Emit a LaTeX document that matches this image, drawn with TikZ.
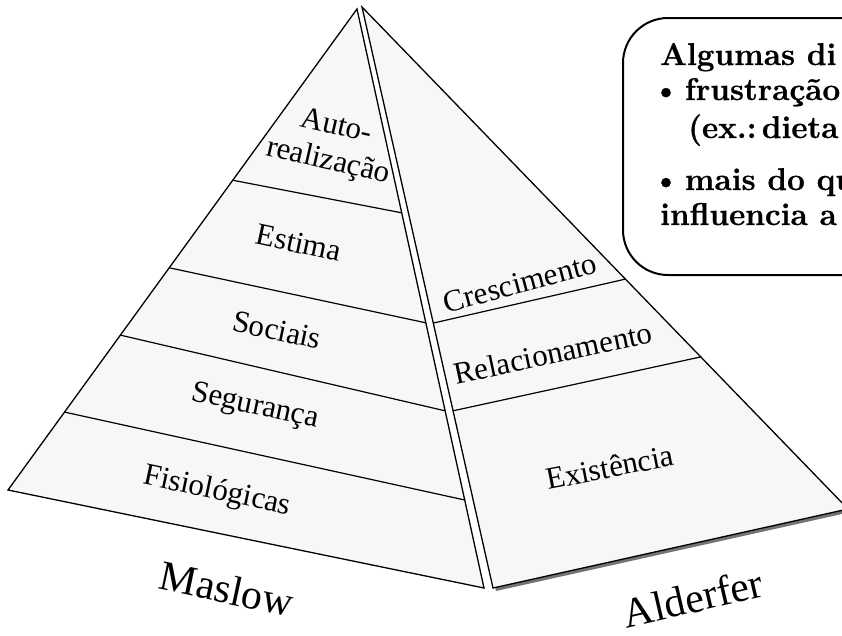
\documentclass[tikz,border=0pt]{standalone}
\usepackage{fontspec}
\setmainfont{Liberation Serif}
\newfontfamily\boxfont[BoldFeatures={FakeBold=0.8}]{Latin Modern Roman}
\usetikzlibrary{calc}
\tikzset{
  face/.style={draw=black, fill=black!3, line width=1.3pt, line join=miter},
  band/.style={draw=black, line width=1.2pt},
  lvl/.style={font=\fontsize{31}{36}\selectfont, inner sep=0pt, align=center},
  title/.style={font=\fontsize{42}{48}\selectfont, inner sep=0pt},
  note/.style={draw=black, line width=2pt, fill=white, rounded corners=45pt},
  notetext/.style={font=\boxfont\bfseries\fontsize{31.5}{36}\selectfont, anchor=base west, inner sep=0pt}
}
\begin{document}
\begin{tikzpicture}[x=1pt,y=-1pt]
\useasboundingbox (0,0) rectangle (842,635);
\clip (0,0) rectangle (842,635);
% corners
\coordinate (LA) at (357,9);
\coordinate (LBL) at (8,490);
\coordinate (LBR) at (484,588);
\coordinate (RA) at (362,7);
\coordinate (RBL) at (493,588);
\coordinate (RBR) at (848,509);
% shadow of right face
\fill[black!55] ($(RA)+(3,3)$) -- ($(RBL)+(3,3)$) -- ($(RBR)+(3,3)$) -- cycle;
% faces
\path[face] (LA) -- (LBL) -- (LBR) -- cycle;
\path[face] (RA) -- (RBL) -- (RBR) -- cycle;
% bands, left face
\draw[band] ($(LA)!0.356!(LBL)$) coordinate (l1a) -- ($(LA)!0.352!(LBR)$) coordinate (l1b);
\draw[band] ($(LA)!0.538!(LBL)$) coordinate (l2a) -- ($(LA)!0.542!(LBR)$) coordinate (l2b);
\draw[band] ($(LA)!0.678!(LBL)$) coordinate (l3a) -- ($(LA)!0.694!(LBR)$) coordinate (l3b);
\draw[band] ($(LA)!0.838!(LBL)$) coordinate (l4a) -- ($(LA)!0.848!(LBR)$) coordinate (l4b);
% bands, right face
\draw[band] ($(RA)!0.544!(RBL)$) coordinate (r1a) -- ($(RA)!0.542!(RBR)$) coordinate (r1b);
\draw[band] ($(RA)!0.695!(RBL)$) coordinate (r2a) -- ($(RA)!0.697!(RBR)$) coordinate (r2b);
% Maslow levels
\node[lvl, rotate=-13] (auto) at (332,145) {Auto-\\realização};
\node[lvl, rotate=-12] (estima) at (299,243) {Estima};
\node[lvl, rotate=-12] (sociais) at (277,330) {Sociais};
\node[lvl, rotate=-12] (seguranca) at (255,407) {Segurança};
\node[lvl, rotate=-12] (fisio) at (217,492) {Fisiológicas};
% Alderfer levels
\node[lvl, rotate=15] (cresc) at (520,283) {Crescimento};
\node[lvl, rotate=12] (relac) at (553,353) {Relacionamento};
\node[lvl, rotate=11] (exist) at (610,467) {Existência};
% titles
\node[title, rotate=-12] (maslow) at (227,589) {Maslow};
\node[title, rotate=13] (alderfer) at (693,598) {Alderfer};
% note box
\path[note] (623,18) rectangle (900,275);
\node[notetext] (n1) at (660,65) {Algumas di};
\node[notetext] (n2) at (652,100) {•\,frustração};
\node[notetext] (n3) at (688,138) {(ex.:\,dieta};
\node[notetext] (n4) at (652,190) {•\,mais do qu};
\node[notetext] (n5) at (660,225) {influencia a};
\end{tikzpicture}
\end{document}
